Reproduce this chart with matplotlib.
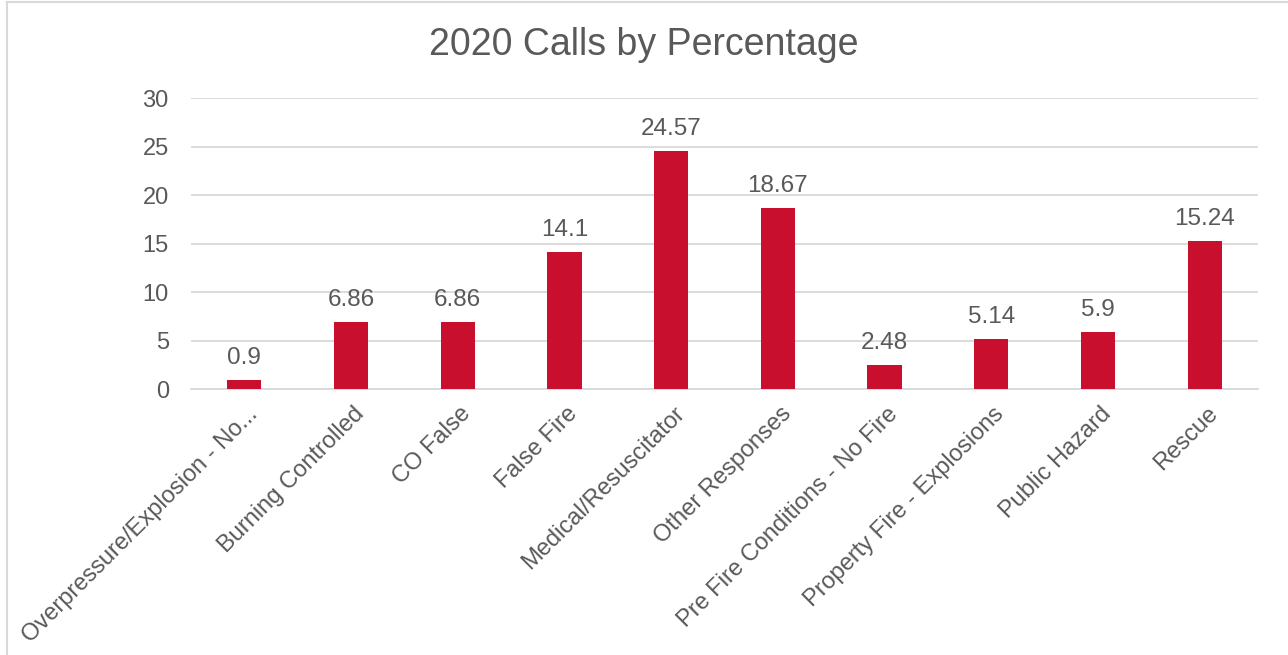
import numpy as np
import matplotlib.pyplot as plt
from matplotlib.lines import Line2D
import matplotlib.transforms as mtransforms

categories = [
    "Overpressure/Explosion - No...",
    "Burning Controlled",
    "CO False",
    "False Fire",
    "Medical/Resuscitator",
    "Other Responses",
    "Pre Fire Conditions - No Fire",
    "Property Fire - Explosions",
    "Public Hazard",
    "Rescue",
]
values = [0.9, 6.86, 6.86, 14.1, 24.57, 18.67, 2.48, 5.14, 5.9, 15.24]
value_labels = ["0.9", "6.86", "6.86", "14.1", "24.57", "18.67", "2.48", "5.14", "5.9", "15.24"]
yticks = [0, 5, 10, 15, 20, 25, 30]

plt.rcParams["font.family"] = ["Liberation Sans", "DejaVu Sans"]
text_color = "#595959"
bar_color = "#c8102e"
grid_color = "#d9d9d9"

fig = plt.figure(figsize=(12.88, 6.55), dpi=100)
ax = fig.add_axes([191 / 1288, 1 - 389 / 655, 1067 / 1288, 291 / 655])

x = np.arange(len(categories))
bars = ax.bar(x, values, width=0.32, color=bar_color, zorder=3)

ax.set_xlim(-0.5, len(categories) - 0.5)
ax.set_ylim(0, 30)
ax.set_yticks(yticks)
ax.set_yticklabels([str(t) for t in yticks], fontsize=17, color=text_color)
ax.yaxis.grid(True, color=grid_color, linewidth=1.3, zorder=0)
ax.tick_params(axis="y", length=0, pad=16)
ax.tick_params(axis="x", length=0, pad=2)
for s in ["top", "right", "left"]:
    ax.spines[s].set_visible(False)
ax.spines["bottom"].set_color(grid_color)
ax.spines["bottom"].set_linewidth(1.3)

ax.set_xticks(x)
ax.set_xticklabels(categories, rotation=45, ha="right", va="top",
                   rotation_mode="anchor", fontsize=17, color=text_color)
offset = mtransforms.ScaledTranslation(2 / 100, -11 / 100, fig.dpi_scale_trans)
for lbl in ax.get_xticklabels():
    lbl.set_transform(lbl.get_transform() + offset)

for xi, v, lab in zip(x, values, value_labels):
    ax.annotate(lab, (xi, v), xytext=(0, 8), textcoords="offset points",
                ha="center", va="bottom", fontsize=17.5, color=text_color)

fig.text(0.5, 1 - 45 / 655, "2020 Calls by Percentage", ha="center", va="center",
         fontsize=27, color=text_color)

# light frame around the chart area
fig.add_artist(Line2D([7 / 1288, 7 / 1288], [0, 1 - 2 / 655], transform=fig.transFigure,
                      color=grid_color, linewidth=1.5))
fig.add_artist(Line2D([7 / 1288, 1], [1 - 2 / 655, 1 - 2 / 655], transform=fig.transFigure,
                      color=grid_color, linewidth=1.5))

fig.savefig("out.png", dpi=100, facecolor="white")
